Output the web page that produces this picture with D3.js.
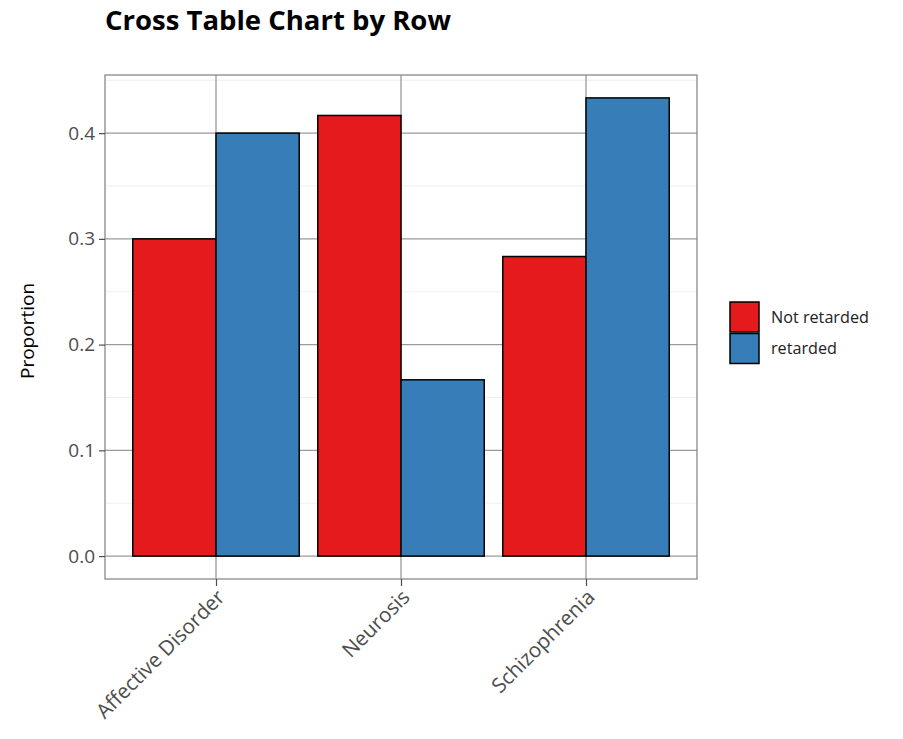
<!DOCTYPE html>
<html><head><meta charset="utf-8">
<script src="https://cdn.jsdelivr.net/npm/d3@7"></script>
<style>body{margin:0;background:#fff;font-family:"Open Sans","Noto Sans",sans-serif;} text{font-family:"Open Sans","Noto Sans",sans-serif;}</style>
</head><body><svg id="c" width="903" height="739"></svg>
<script>
const categories = ["Affective Disorder", "Neurosis", "Schizophrenia"];
const groups = ["Not retarded", "retarded"];
const notRetarded = [0.3, 0.4167, 0.2833];
const retarded = [0.4, 0.1667, 0.4333];
const yTicks = [0, 0.1, 0.2, 0.3, 0.4];
const colors = ["#E41A1C", "#377EB8"];

const svg = d3.select("#c");
const L = 105, R = 697, T = 75, B = 579;
const maxV = d3.max([...notRetarded, ...retarded]);
const y = d3.scaleLinear().domain([-0.05 * maxV, maxV * 1.05]).range([B, T]);
const xc = d3.scalePoint().domain(categories).range([L + 185*0.6, R - 185*0.6]);
const step = xc.step();
const xg = d3.scaleBand().domain(groups).range([-0.45*step, 0.45*step]).padding(0);

svg.append("rect").attr("x", L).attr("y", T).attr("width", R-L).attr("height", B-T).attr("fill", "#fff");
// minor grid
const minor = [0.05, 0.15, 0.25, 0.35, 0.45];
svg.append("g").selectAll("line").data(minor.filter(v => y(v) >= T)).join("line")
  .attr("x1", L).attr("x2", R).attr("y1", d => y(d)).attr("y2", d => y(d))
  .attr("stroke", "#ebebeb").attr("stroke-width", 0.8);
// major grid
svg.append("g").selectAll("line").data(yTicks).join("line")
  .attr("x1", L).attr("x2", R).attr("y1", d => y(d)).attr("y2", d => y(d))
  .attr("stroke", "#9a9a9a").attr("stroke-width", 1.3);
svg.append("g").selectAll("line").data(categories).join("line")
  .attr("x1", d => xc(d)).attr("x2", d => xc(d)).attr("y1", T).attr("y2", B)
  .attr("stroke", "#9a9a9a").attr("stroke-width", 1.3);

// bars
const series = [notRetarded, retarded];
groups.forEach((g, gi) => {
  svg.append("g").selectAll("rect").data(categories).join("rect")
    .attr("x", d => xc(d) + xg(g))
    .attr("width", xg.bandwidth())
    .attr("y", (d, i) => y(series[gi][i]))
    .attr("height", (d, i) => y(0) - y(series[gi][i]))
    .attr("fill", colors[gi]).attr("stroke", "#000").attr("stroke-width", 1.5);
});

// panel border
svg.append("rect").attr("x", L).attr("y", T).attr("width", R-L).attr("height", B-T)
  .attr("fill", "none").attr("stroke", "#7f7f7f").attr("stroke-width", 1.2);

// y axis
const yAxis = svg.append("g").attr("transform", `translate(${L},0)`)
  .call(d3.axisLeft(y).tickValues(yTicks).tickFormat(d3.format(".1f")).tickSize(6).tickPadding(4));
yAxis.attr("font-size", 19).attr("font-family", null);
yAxis.select(".domain").remove();
yAxis.selectAll(".tick line").attr("stroke", "#4d4d4d").attr("stroke-width", 1.2);
yAxis.selectAll(".tick text").attr("fill", "#4d4d4d");

// x axis
const xAxis = svg.append("g").attr("transform", `translate(0,${B})`)
  .call(d3.axisBottom(xc).tickSize(7));
xAxis.attr("font-size", 20.6).attr("font-family", null);
xAxis.select(".domain").remove();
xAxis.selectAll(".tick line").attr("stroke", "#4d4d4d").attr("stroke-width", 1.2);
xAxis.selectAll(".tick text").attr("fill", "#4d4d4d")
  .attr("text-anchor", "end").attr("dy", "0.72em").attr("x", 0).attr("y", 0)
  .attr("transform", "translate(-1,9) rotate(-45)");

// y title
svg.append("text").attr("transform", `translate(34,${(T+B)/2 + 4}) rotate(-90)`)
  .attr("text-anchor", "middle").attr("font-size", 19).attr("fill", "#000")
  .text("Proportion");

// title
svg.append("text").attr("x", L).attr("y", 29.5).attr("font-size", 27.5).attr("font-weight", "bold")
  .attr("fill", "#000").text("Cross Table Chart by Row");

// legend
const lg = svg.append("g");
groups.forEach((g, i) => {
  lg.append("rect").attr("x", 730).attr("y", 302 + i*31.5).attr("width", 29).attr("height", 30)
    .attr("fill", colors[i]).attr("stroke", "#000").attr("stroke-width", 1.5);
  lg.append("text").attr("x", 771).attr("y", 317 + i*31.5).attr("dy", "0.35em")
    .attr("font-size", 16.2).attr("fill", "#222").text(g);
});
</script></body></html>
